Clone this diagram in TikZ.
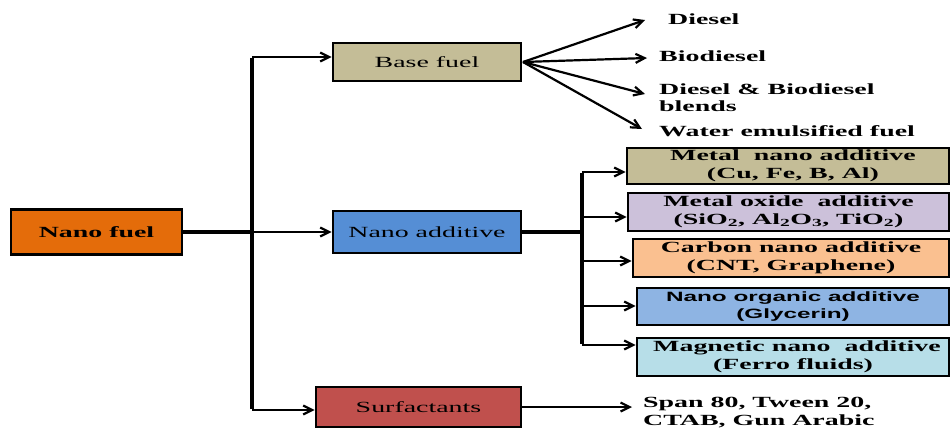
\documentclass[tikz,border=0pt]{standalone}
\usepackage{fontspec}
\setmainfont{Liberation Serif}
\newfontfamily\trs[FakeStretch=1.8]{Liberation Serif}
\newfontfamily\ars[FakeStretch=1.8]{Liberation Sans}
\usetikzlibrary{arrows.meta}
\definecolor{cNF}{HTML}{E46C0A}
\definecolor{cBF}{HTML}{C4BD97}
\definecolor{cNA}{HTML}{558ED5}
\definecolor{cSF}{HTML}{C0504D}
\definecolor{cMO}{HTML}{CCC1DA}
\definecolor{cCN}{HTML}{FAC090}
\definecolor{cNO}{HTML}{8EB4E3}
\definecolor{cMG}{HTML}{B7DEE8}
\begin{document}
\begin{tikzpicture}[x=1pt,y=-1pt,
  box/.style={draw=black, line width=2.8pt, inner sep=0pt, align=center,
    font=\trs\fontsize{15.5}{18}\selectfont},
  bbox/.style={box, font=\trs\bfseries\fontsize{15.5}{18}\selectfont},
  lbl/.style={anchor=west, inner sep=0pt, align=left,
    font=\trs\bfseries\fontsize{15.5}{17.5}\selectfont},
  trunk/.style={line width=3.2pt},
  arr/.style={line width=2.2pt, -{Straight Barb[length=9pt,width=9pt,line width=2.2pt]}}
]
\useasboundingbox (0,0) rectangle (951,431);

% main boxes
\node[bbox, fill=cNF, minimum width=171pt, minimum height=45pt] (nf) at (96.5,232) {Nano fuel};
\node[box, fill=cBF, minimum width=188pt, minimum height=38pt] (bf) at (427,62) {Base fuel};
\node[box, fill=cNA, minimum width=188pt, minimum height=42pt] (na) at (427,232) {Nano additive};
\node[box, fill=cSF, minimum width=205pt, minimum height=40pt] (sf) at (418.5,407) {Surfactants};

% additive boxes
\node[bbox, fill=cBF, minimum width=322pt, minimum height=36pt] (mn) at (788,166) {\hspace*{10pt}Metal\ \ nano additive\\\hspace*{10pt}(Cu, Fe, B, Al)};
\node[bbox, fill=cMO, minimum width=321pt, minimum height=38pt] (mo) at (788.5,212) {Metal oxide\ \ additive\\(SiO\textsubscript{2}, Al\textsubscript{2}O\textsubscript{3}, TiO\textsubscript{2})};
\node[bbox, fill=cCN, minimum width=316pt, minimum height=38pt] (cn) at (791,258) {Carbon nano additive\\(CNT, Graphene)};
\node[box, fill=cNO, minimum width=312pt, minimum height=37pt,
  font=\ars\bfseries\fontsize{13.5}{17}\selectfont] (no) at (793,306.5) {Nano organic additive\\(Glycerin)};
\node[bbox, fill=cMG, minimum width=312pt, minimum height=38pt] (mg) at (793,357) {\hspace*{8pt}Magnetic nano\ \ additive\\(Ferro fluids)};

% labels
\node[lbl] (l1) at (668,19) {Diesel};
\node[lbl] (l2) at (659,56) {Biodiesel};
\node[lbl] (l3) at (659,97.5) {Diesel \& Biodiesel\\blends};
\node[lbl] (l4) at (659,131) {Water emulsified fuel};
\node[lbl, font=\trs\bfseries\fontsize{15.5}{18}\selectfont] (l5) at (643,413) {Span 80, Tween 20,\\CTAB, Gun Arabic};

% coordinates
\coordinate (j0) at (252,232);
\coordinate (jt) at (252,57);
\coordinate (jb) at (252,410);
\coordinate (fan) at (523,62);
\coordinate (t1) at (645,20);
\coordinate (t2) at (647,58);
\coordinate (t3) at (645,94);
\coordinate (t4) at (642,129);
\coordinate (ja) at (582,232);
\coordinate (v1) at (582,172);
\coordinate (v2) at (582,217);
\coordinate (v3) at (582,261);
\coordinate (v4) at (582,306);
\coordinate (v5) at (582,345);
\coordinate (sp) at (632,407);

% trunk from nano fuel
\draw[trunk] (nf.east) -- (j0);
\draw[trunk] ([yshift=-1pt]jt) -- ([yshift=1pt]jb);
\draw[arr] (jt) -- (bf.west |- jt);
\draw[arr] (j0) -- (na.west);
\draw[arr] (jb) -- (sf.west |- jb);

% base fuel fan
\draw[arr] (fan) -- (t1);
\draw[arr] (fan) -- (t2);
\draw[arr] (fan) -- (t3);
\draw[arr] (fan) -- (t4);

% nano additive branch
\draw[trunk] (na.east) -- (ja);
\draw[trunk] ([yshift=-1pt]v1) -- ([yshift=1pt]v5);
\draw[arr] (v1) -- (mn.west |- v1);
\draw[arr] (v2) -- (mo.west |- v2);
\draw[arr] (v3) -- (cn.west |- v3);
\draw[arr] (v4) -- (no.west |- v4);
\draw[arr] (v5) -- (mg.west |- v5);

% surfactants
\draw[arr] (sf.east) -- (sp);
\end{tikzpicture}
\end{document}
